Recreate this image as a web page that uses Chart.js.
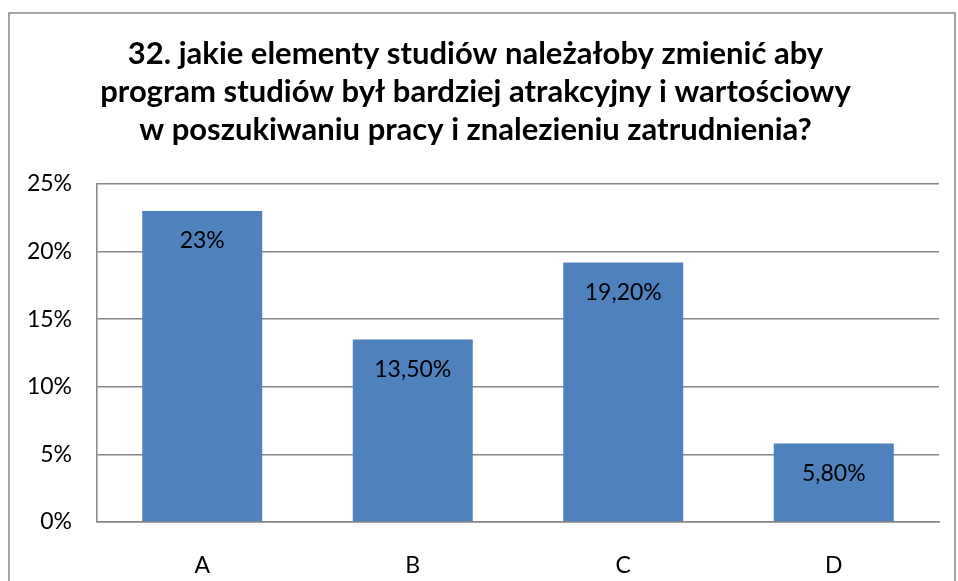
<!DOCTYPE html>
<html><head><meta charset="utf-8">
<script src="https://cdn.jsdelivr.net/npm/chart.js@4.4.0/dist/chart.umd.min.js"></script>
<style>html,body{margin:0;padding:0;background:#fff;}canvas{display:block;}</style>
</head><body>
<canvas id="c" width="958" height="581"></canvas>
<script>
const titleLines = ["32. jakie elementy studiów należałoby zmienić aby","program studiów był bardziej atrakcyjny i wartościowy","w poszukiwaniu pracy i znalezieniu zatrudnienia?"];
const categories = ["A","B","C","D"];
const values = [23, 13.5, 19.2, 5.8];
const valueLabels = ["23%","13,50%","19,20%","5,80%"];
const yTicks = [0,5,10,15,20,25];

const FONT = "Lato";
const frame = {id:'frame', beforeDraw(chart){const c=chart.ctx;c.save();c.strokeStyle='#868686';c.lineWidth=1.5;c.strokeRect(9,13,946,600);c.restore();}};
const dataLabels = {id:'dl', afterDatasetsDraw(chart){const c=chart.ctx;const meta=chart.getDatasetMeta(0);c.save();c.font='23px '+FONT;c.fillStyle='#000';c.textAlign='center';c.textBaseline='middle';meta.data.forEach((b,i)=>{c.fillText(valueLabels[i],b.x,b.y+30);});c.restore();}};

new Chart(document.getElementById('c'),{
 type:'bar',
 data:{labels:categories,datasets:[{data:values,backgroundColor:'#4F81BD',borderWidth:0,categoryPercentage:1,barPercentage:0.57}]},
 options:{responsive:false,animation:false,
  layout:{padding:{left:12,right:19,top:14,bottom:0}},
  plugins:{legend:{display:false},tooltip:{enabled:false},
   title:{display:true,text:titleLines,color:'#000',font:{family:FONT,size:31,weight:'bold',lineHeight:'38px'},padding:{top:21,bottom:35}}},
  scales:{
   x:{grid:{display:false},border:{display:true,color:'#868686',width:1.5},ticks:{color:'#000',font:{family:FONT,size:23},padding:22},afterFit(s){s.height=59;}},
   y:{min:0,max:25,afterBuildTicks(s){s.ticks=yTicks.map(v=>({value:v}));},
      grid:{color:'#868686',lineWidth:1.5,drawTicks:false},border:{display:true,color:'#868686',width:1.5},
      ticks:{color:'#000',font:{family:FONT,size:23},padding:25,callback:v=>v+'%'},afterFit(s){s.width=85;}}
  }},
 plugins:[frame,dataLabels]
});
</script></body></html>
